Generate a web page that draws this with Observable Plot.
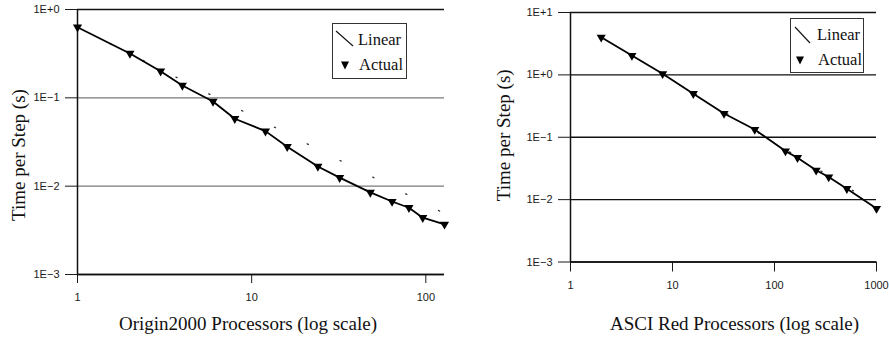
<!DOCTYPE html>
<html>
<head>
<meta charset="utf-8">
<script src="https://cdn.jsdelivr.net/npm/d3@7"></script>
<script src="https://cdn.jsdelivr.net/npm/@observablehq/plot@0.6"></script>
<style>
  html, body { margin: 0; padding: 0; background: white; }
  #wrap { position: relative; width: 889px; height: 339px; overflow: hidden; background: white; }
  .panel { position: absolute; top: 0; }
  .legend { position: absolute; box-sizing: border-box; border: 1.5px solid #333; background: white;
            font-family: "Liberation Serif", "Times New Roman", serif; font-size: 16.5px; color: #111; }
  .legend span { position: absolute; line-height: 1; transform: translateY(-50%); white-space: nowrap; }
  .legend svg { position: absolute; left: 0; top: 0; }
</style>
</head>
<body>
<div id="wrap"></div>
<script>
// ---------- Data ----------
// Origin2000
const originProcs = [1, 2, 3, 4, 6, 8, 12, 16, 24, 32, 48, 64, 80, 96, 128];
const originTimes = [0.63, 0.318, 0.20, 0.138, 0.091, 0.058, 0.042, 0.028, 0.0167, 0.0125, 0.0085, 0.0067, 0.0057, 0.0044, 0.0037];
const originLinearProcs = [1, 128];
const originLinearTimes = [0.63, 0.0049];

// ASCI Red
const redProcs = [2, 4, 8, 16, 32, 64, 128, 168, 256, 340, 512, 1000];
const redTimes = [4.0, 2.04, 1.04, 0.50, 0.24, 0.133, 0.060, 0.047, 0.0295, 0.023, 0.015, 0.0072];
const redLinearProcs = [2, 1000];
const redLinearTimes = [4.1, 0.0082];

// Ticks / labels
const originXTicks = [1, 10, 100];
const originXTickLabels = ["1", "10", "100"];
const originYTicks = [1, 0.1, 0.01, 0.001];
const originYTickLabels = ["1E+0", "1E\u22121", "1E\u22122", "1E\u22123"];
const redXTicks = [1, 10, 100, 1000];
const redXTickLabels = ["1", "10", "100", "1000"];
const redYTicks = [10, 1, 0.1, 0.01, 0.001];
const redYTickLabels = ["1E+1", "1E+0", "1E\u22121", "1E\u22122", "1E\u22123"];

const yTitle = "Time per Step (s)";
const originXTitle = "Origin2000 Processors (log scale)";
const redXTitle = "ASCI Red Processors (log scale)";
const legendLabels = ["Linear", "Actual"];

// ---------- helpers ----------
const toRows = (xs, ys) => xs.map((x, i) => ({x, y: ys[i]}));
const labeler = (ticks, labels) => d => labels[ticks.indexOf(d)] ?? "";
const sans = "Liberation Sans, Arial, Helvetica, sans-serif";
const serif = "Liberation Serif, Times New Roman, serif";

// downward-pointing triangle symbol (d3 symbol type interface)
const triangleDown = {
  draw(ctx, size) {
    const y = Math.sqrt(size / (Math.sqrt(3) * 3));
    ctx.moveTo(0, 2 * y);
    ctx.lineTo(-Math.sqrt(3) * y, -y);
    ctx.lineTo(Math.sqrt(3) * y, -y);
    ctx.closePath();
  }
};

function panel(cfg) {
  const actual = toRows(cfg.procs, cfg.times);
  const linear = toRows(cfg.linProcs, cfg.linTimes);
  const svg = Plot.plot({
    width: cfg.width, height: 339,
    marginLeft: cfg.ml, marginRight: cfg.mr, marginTop: cfg.mt, marginBottom: cfg.mb,
    x: {type: "log", domain: cfg.xDomain, ticks: cfg.xTicks, tickSize: cfg.xTickSize, tickPadding: cfg.xTickPad,
        tickFormat: labeler(cfg.xTicks, cfg.xLabels), label: null},
    y: {type: "log", domain: cfg.yDomain, ticks: cfg.yTicks, tickSize: 12, tickPadding: 6,
        tickFormat: labeler(cfg.yTicks, cfg.yLabels), label: null},
    style: {background: "transparent", overflow: "visible", fontFamily: sans, fontSize: "11px", color: "#1a1a1a"},
    marks: [
      // grid lines
      Plot.ruleY(cfg.grayGrid, {stroke: "#7a7a7a", strokeWidth: 1.3}),
      Plot.ruleY(cfg.blackGrid, {stroke: "#111", strokeWidth: 1.3}),
      // axis lines
      Plot.ruleX([cfg.xDomain[0]], {stroke: "#111", strokeWidth: 1.5}),
      Plot.ruleY([cfg.yDomain[0]], {stroke: "#111", strokeWidth: 1.5}),
      // titles
      Plot.text([cfg.xTitle], {frameAnchor: "bottom", textAnchor: "middle", lineAnchor: "middle",
        dx: cfg.xtDx, dy: cfg.xtDy, fontSize: 19, fontFamily: serif, fill: "#111"}),
      Plot.text([yTitle], {frameAnchor: "left", textAnchor: "middle", lineAnchor: "middle", rotate: -90,
        dx: cfg.ytDx, dy: cfg.ytDy, fontSize: 19, fontFamily: serif, fill: "#111"}),
      // data
      Plot.line(linear, {x: "x", y: "y", stroke: "#333", strokeWidth: 1.3, strokeDasharray: "1.3,35.5"}),
      Plot.line(actual, {x: "x", y: "y", stroke: "#000", strokeWidth: 1.8}),
      Plot.dot(actual, {x: "x", y: "y", symbol: triangleDown, r: 3.4, fill: "#000", stroke: "none"})
    ]
  });
  // colour the y tick stubs of the grey grid lines grey
  d3.select(svg).selectAll("g[aria-label='y-axis'] g.tick").each(function(d) {
    if (cfg.grayGrid.includes(d)) d3.select(this).select("line").attr("stroke", "#7a7a7a");
  });
  return svg;
}

const wrap = document.getElementById("wrap");

const left = panel({
  width: 445, ml: 77, mr: 1, mt: 9, mb: 65,
  xDomain: [1, 128], yDomain: [0.001, 1],
  procs: originProcs, times: originTimes, linProcs: originLinearProcs, linTimes: originLinearTimes,
  grayGrid: [0.1, 0.01], blackGrid: [1, 0.001],
  yTicks: originYTicks, yLabels: originYTickLabels,
  xTicks: originXTicks, xLabels: originXTickLabels, xTickSize: 9, xTickPad: 10,
  xTitle: originXTitle, xtDx: -13, xtDy: 49, ytDx: -59, ytDy: 13
});
left.classList.add("panel");
left.style.left = "0px";
wrap.appendChild(left);

const right = panel({
  width: 444, ml: 125, mr: 13, mt: 12, mb: 77.5,
  xDomain: [1, 1000], yDomain: [0.001, 10],
  procs: redProcs, times: redTimes, linProcs: redLinearProcs, linTimes: redLinearTimes,
  grayGrid: [], blackGrid: [10, 1, 0.1, 0.01, 0.001],
  yTicks: redYTicks, yLabels: redYTickLabels,
  xTicks: redXTicks, xLabels: redXTickLabels, xTickSize: 10, xTickPad: 9,
  xTitle: redXTitle, xtDx: 11, xtDy: 61.5, ytDx: -67, ytDy: -2
});
right.classList.add("panel");
right.style.left = "445px";
wrap.appendChild(right);

// ---------- legends ----------
function legend(cfg) {
  const box = document.createElement("div");
  box.className = "legend";
  Object.assign(box.style, {left: cfg.left + "px", top: cfg.top + "px", width: cfg.w + "px", height: cfg.h + "px"});
  const ns = "http://www.w3.org/2000/svg";
  const svg = document.createElementNS(ns, "svg");
  svg.setAttribute("width", cfg.w); svg.setAttribute("height", cfg.h);
  const ln = document.createElementNS(ns, "line");
  ln.setAttribute("x1", cfg.line[0]); ln.setAttribute("y1", cfg.line[1]);
  ln.setAttribute("x2", cfg.line[2]); ln.setAttribute("y2", cfg.line[3]);
  ln.setAttribute("stroke", "#111"); ln.setAttribute("stroke-width", "1.1");
  svg.appendChild(ln);
  const tri = document.createElementNS(ns, "path");
  const [tx, ty] = cfg.tri;
  tri.setAttribute("d", `M${tx - 4},${ty - 3.5}L${tx + 4},${ty - 3.5}L${tx},${ty + 4.5}Z`);
  tri.setAttribute("fill", "#000");
  svg.appendChild(tri);
  box.appendChild(svg);
  legendLabels.forEach((t, i) => {
    const s = document.createElement("span");
    s.textContent = t;
    s.style.left = cfg.text[i][0] + "px";
    s.style.top = cfg.text[i][1] + "px";
    box.appendChild(s);
  });
  wrap.appendChild(box);
}
legend({left: 332, top: 23, w: 75, h: 56, line: [3, 7, 20, 22], tri: [12, 41], text: [[25, 16], [26, 41]]});
legend({left: 790, top: 18, w: 74, h: 55, line: [4, 8, 19, 24], tri: [9, 41], text: [[26, 16], [27, 41]]});
</script>
</body>
</html>
